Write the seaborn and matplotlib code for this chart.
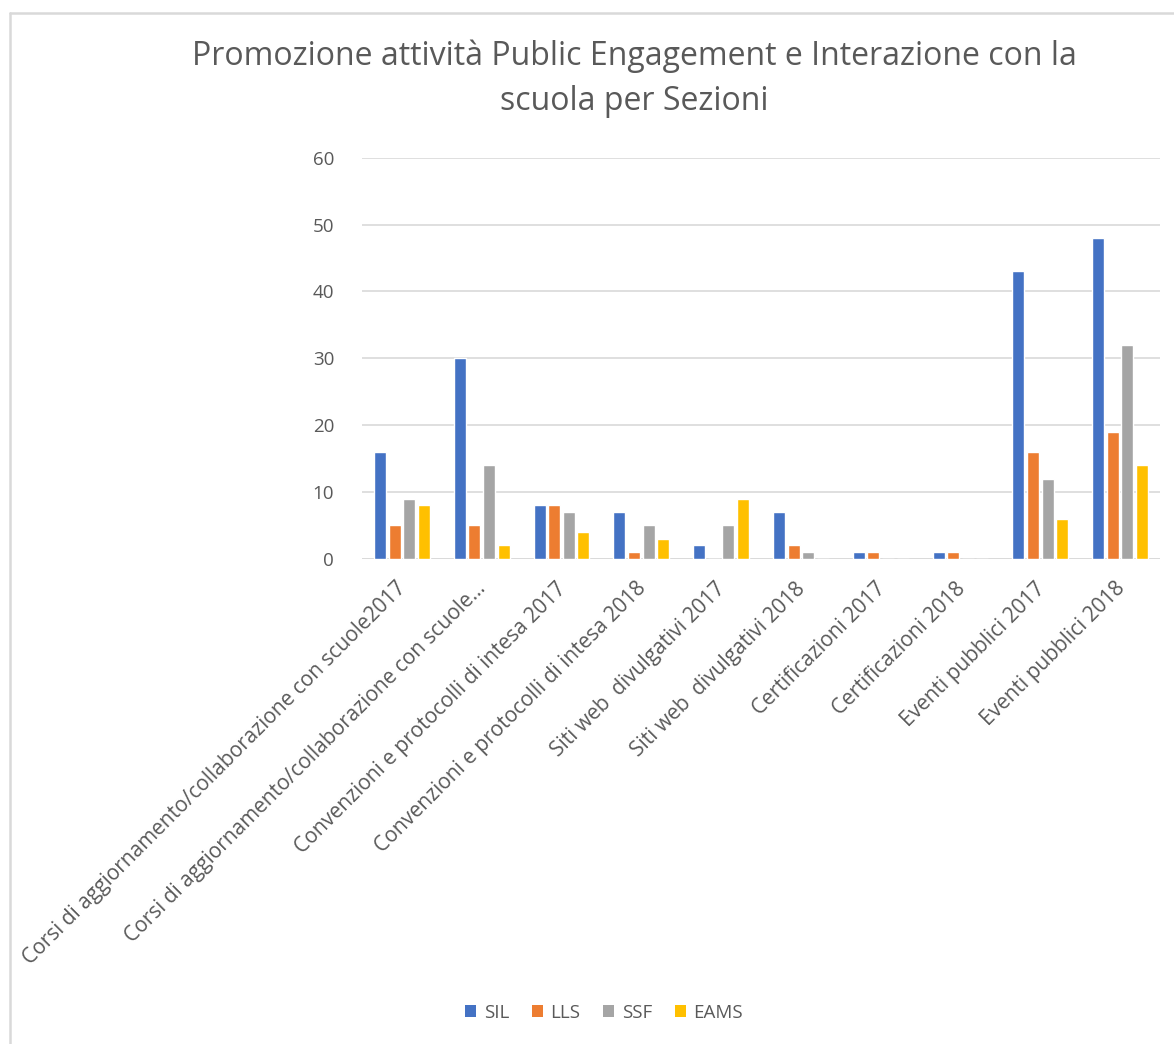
import matplotlib
matplotlib.use("Agg")
import matplotlib.pyplot as plt
import matplotlib.transforms as mtransforms
import seaborn as sns
import pandas as pd
from matplotlib.lines import Line2D
from matplotlib.patches import Patch

categories = [
    "Corsi di aggiornamento/collaborazione con scuole2017",
    "Corsi di aggiornamento/collaborazione con scuole…",
    "Convenzioni e protocolli di intesa 2017",
    "Convenzioni e protocolli di intesa 2018",
    "Siti web  divulgativi 2017",
    "Siti web  divulgativi 2018",
    "Certificazioni 2017",
    "Certificazioni 2018",
    "Eventi pubblici 2017",
    "Eventi pubblici 2018",
]
series = ["SIL", "LLS", "SSF", "EAMS"]
SIL = [16, 30, 8, 7, 2, 7, 1, 1, 43, 48]
LLS = [5, 5, 8, 1, 0, 2, 1, 1, 16, 19]
SSF = [9, 14, 7, 5, 5, 1, 0, 0, 12, 32]
EAMS = [8, 2, 4, 3, 9, 0, 0, 0, 6, 14]
yticks = [0, 10, 20, 30, 40, 50, 60]
title_lines = ["Promozione attività Public Engagement e Interazione con la",
               "scuola per Sezioni"]

colors = ["#4472C4", "#ED7D31", "#A5A5A5", "#FFC000"]
txt = "#595959"
grid_c = "#D9D9D9"

rows = []
for s, vals in zip(series, [SIL, LLS, SSF, EAMS]):
    for c, v in zip(categories, vals):
        rows.append({"cat": c, "series": s, "value": v})
df = pd.DataFrame(rows)

sns.set_theme(style="white")
plt.rcParams["font.family"] = ["Open Sans", "DejaVu Sans"]

W, H = 1174, 1044
fig = plt.figure(figsize=(W / 100, H / 100), dpi=100)
ax = fig.add_axes([362 / W, 1 - 558.7 / H, (1160 - 362) / W, (558.7 - 157.7) / H])

sns.barplot(data=df, x="cat", y="value", hue="series", order=categories,
            hue_order=series, palette=colors, width=0.73, gap=0.17,
            saturation=1, ax=ax, legend=False, errorbar=None)

ax.set_ylim(0, 60)
ax.set_xlim(-0.5, len(categories) - 0.5)
ax.set_yticks(yticks)
ax.yaxis.grid(True, color=grid_c, linewidth=1.2)
ax.set_axisbelow(True)
for sp in ax.spines.values():
    sp.set_visible(False)
ax.axhline(0, color=grid_c, linewidth=1.2, zorder=0.5)
ax.set_xlabel("")
ax.set_ylabel("")
ax.tick_params(axis="y", length=0, labelsize=13.5, colors=txt, pad=20)
ax.tick_params(axis="x", length=0, labelsize=15, colors=txt, pad=14)
ax.set_xticks(range(len(categories)))
ax.set_xticklabels(categories, rotation=45, ha="right", rotation_mode="anchor")
shift = mtransforms.ScaledTranslation(-0.06, 0, fig.dpi_scale_trans)
for lab in ax.get_xticklabels():
    lab.set_transform(lab.get_transform() + shift)

fig.text(634 / W, 1 - 65 / H, title_lines[0], ha="center", va="baseline",
         fontsize=23, color=txt)
fig.text(634 / W, 1 - 110 / H, title_lines[1], ha="center", va="baseline",
         fontsize=23, color=txt)

handles = [Patch(facecolor=c, edgecolor="none") for c in colors]
fig.legend(handles, series, loc="center", bbox_to_anchor=(604 / W, 1 - 1013 / H),
           ncol=4, frameon=False, fontsize=13.5, handlelength=0.6, handleheight=0.6,
           handletextpad=0.4, columnspacing=1.2, labelcolor=txt)

# chart border (partially visible)
fig.add_artist(Line2D([10 / W, 10 / W], [1 - 13 / H, 0], color=grid_c, lw=1.8,
                      transform=fig.transFigure))
fig.add_artist(Line2D([10 / W, 1], [1 - 13 / H, 1 - 13 / H], color=grid_c, lw=1.8,
                      transform=fig.transFigure))

fig.savefig("out.png", dpi=100, facecolor="white")
